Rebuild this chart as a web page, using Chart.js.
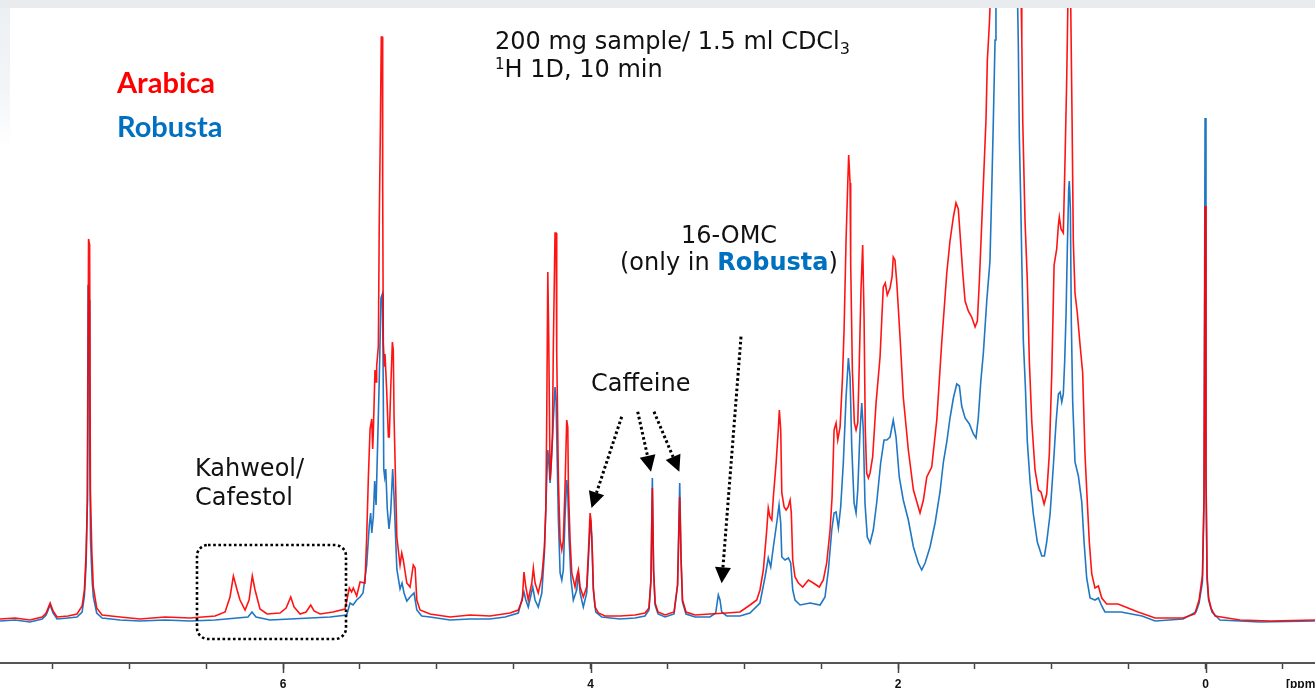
<!DOCTYPE html>
<html>
<head>
<meta charset="utf-8">
<title>1H NMR Arabica vs Robusta</title>
<script src="https://cdn.jsdelivr.net/npm/chart.js@4.4.1/dist/chart.umd.min.js"></script>
<style>
  html, body { margin: 0; padding: 0; background: #fff; overflow: hidden; }
  #wrap { position: relative; width: 1315px; height: 688px; }
  #spectrum { position: absolute; left: 0; top: 0; }
  #topband { position: absolute; left: 0; top: 0; width: 1315px; height: 8px; background: #e8ecef; }
  #leftband { position: absolute; left: 0; top: 8px; width: 10px; height: 140px;
              background: linear-gradient(#edf0f3, #f3f5f7 60%, #fff); }
  #notes { position: absolute; left: 0; top: 0; }
</style>
</head>
<body>
<div id="wrap">
  <canvas id="spectrum" width="1315" height="688"></canvas>
  <div id="topband"></div>
  <div id="leftband"></div>
  <svg id="notes" width="1315" height="688" xmlns="http://www.w3.org/2000/svg">
    <g font-family="'DejaVu Sans', Verdana, sans-serif" font-size="24" fill="#111">
      <text x="495" y="49">200 mg sample/ 1.5 ml CDCl<tspan font-size="16" dy="5">3</tspan></text>
      <text x="495" y="77"><tspan font-size="15" dy="-8">1</tspan><tspan dy="8">H 1D, 10 min</tspan></text>
      <text x="729" y="243" text-anchor="middle">16-OMC</text>
      <text x="620" y="270">(only in <tspan fill="#0070c0" font-weight="bold">Robusta</tspan>)</text>
      <text x="591" y="391">Caffeine</text>
      <text x="195" y="476">Kahweol/</text>
      <text x="195" y="505">Cafestol</text>
    </g>
    <g font-family="Lato, 'Open Sans', sans-serif" font-weight="bold" font-size="29">
      <text x="117" y="93" fill="#ff0000">Arabica</text>
      <text x="117" y="137" fill="#0070c0">Robusta</text>
    </g>
    <text x="1286" y="688" font-family="'Liberation Sans', Arial, sans-serif" font-weight="bold" font-size="12" fill="#111">[ppm]</text>
    <rect x="197" y="545" width="149" height="94" rx="11" fill="none" stroke="#000" stroke-width="2.6" stroke-dasharray="2.6 2.6"/>
    <g id="arrows"></g>
  </svg>
</div>

<script>
// chemical shift (ppm) and intensity (a.u.)
const arabicaPpm = [
  7.841, 7.743, 7.646, 7.567, 7.541, 7.515, 7.496, 7.470, 7.398, 7.340,
  7.307, 7.292, 7.281, 7.272, 7.265, 7.258, 7.253, 7.244, 7.234, 7.212,
  7.177, 7.060, 6.930, 6.767, 6.605, 6.442, 6.377, 6.345, 6.323, 6.297,
  6.280, 6.247, 6.221, 6.200, 6.182, 6.150, 6.104, 6.020, 5.980, 5.950,
  5.928, 5.889, 5.850, 5.820, 5.798, 5.759, 5.675, 5.597, 5.569, 5.554,
  5.543, 5.521, 5.499, 5.467, 5.456, 5.445, 5.434, 5.423, 5.417, 5.413,
  5.402, 5.395, 5.391, 5.380, 5.374, 5.367, 5.361, 5.354, 5.352, 5.348,
  5.341, 5.337, 5.326, 5.315, 5.309, 5.300, 5.289, 5.283, 5.278, 5.260,
  5.239, 5.228, 5.218, 5.195, 5.174, 5.153, 5.141, 5.130, 5.109, 5.044,
  4.914, 4.784, 4.654, 4.524, 4.470, 4.444, 4.433, 4.421, 4.405, 4.382,
  4.372, 4.361, 4.340, 4.317, 4.300, 4.291, 4.285, 4.278, 4.272, 4.263,
  4.257, 4.248, 4.242, 4.231, 4.224, 4.220, 4.209, 4.198, 4.187, 4.177,
  4.166, 4.155, 4.148, 4.144, 4.133, 4.122, 4.101, 4.090, 4.079, 4.068,
  4.047, 4.025, 4.014, 4.003, 3.997, 3.988, 3.982, 3.971, 3.949, 3.906,
  3.808, 3.711, 3.646, 3.620, 3.607, 3.598, 3.590, 3.580, 3.561, 3.515,
  3.457, 3.434, 3.420, 3.411, 3.402, 3.379, 3.320, 3.223, 3.114, 3.028,
  2.963, 2.919, 2.898, 2.876, 2.854, 2.844, 2.833, 2.821, 2.811, 2.793,
  2.779, 2.772, 2.763, 2.756, 2.741, 2.728, 2.715, 2.702, 2.694, 2.685,
  2.670, 2.648, 2.620, 2.583, 2.551, 2.512, 2.486, 2.464, 2.442, 2.429,
  2.416, 2.403, 2.392, 2.377, 2.362, 2.351, 2.338, 2.327, 2.321, 2.312,
  2.308, 2.297, 2.284, 2.273, 2.262, 2.252, 2.241, 2.230, 2.221, 2.213,
  2.204, 2.193, 2.182, 2.165, 2.143, 2.117, 2.096, 2.083, 2.070, 2.052,
  2.039, 2.031, 2.020, 2.008, 1.987, 1.966, 1.933, 1.900, 1.857, 1.835,
  1.813, 1.781, 1.748, 1.716, 1.683, 1.662, 1.640, 1.623, 1.608, 1.597,
  1.579, 1.564, 1.543, 1.521, 1.499, 1.484, 1.471, 1.456, 1.441, 1.428,
  1.419, 1.406, 1.395, 1.337, 1.298, 1.259, 1.220, 1.200, 1.195, 1.189,
  1.174, 1.159, 1.146, 1.130, 1.109, 1.087, 1.070, 1.050, 1.033, 1.016,
  1.000, 0.985, 0.968, 0.957, 0.951, 0.940, 0.925, 0.914, 0.903, 0.894,
  0.886, 0.878, 0.868, 0.860, 0.849, 0.834, 0.816, 0.799, 0.784, 0.769,
  0.756, 0.740, 0.719, 0.697, 0.675, 0.643, 0.569, 0.439, 0.328, 0.146,
  0.070, 0.042, 0.020, 0.010, 0.003, -0.003, -0.010, -0.020, -0.036, -0.062,
  -0.224, -0.420, -0.712
];
const arabicaInt = [
  1, 2, 0, 3, 7, 17, 9, 3, 4, 6,
  14, 30, 67, 120, 381, 375, 130, 70, 33, 12,
  5, 3, 1, 3, 2, 4, 8, 23, 44, 29,
  20, 10, 20, 44, 30, 11, 6, 7, 12, 23,
  13, 6, 8, 15, 9, 6, 8, 11, 32, 28,
  32, 24, 38, 37, 83, 143, 191, 201, 171, 187,
  250, 238, 254, 274, 402, 491, 583, 583, 434, 278,
  254, 266, 230, 183, 183, 230, 278, 270, 203, 83,
  55, 67, 60, 37, 33, 55, 52, 20, 10, 6,
  3, 5, 4, 7, 10, 20, 48, 33, 20, 37,
  52, 37, 27, 43, 73, 110, 200, 348, 283, 140,
  153, 183, 273, 387, 387, 267, 140, 80, 70, 80,
  133, 200, 193, 133, 80, 47, 33, 43, 50, 33,
  23, 33, 67, 107, 100, 67, 33, 13, 7, 4,
  4, 5, 7, 12, 40, 132, 50, 17, 8, 5,
  8, 35, 123, 60, 20, 8, 5, 6, 7, 8,
  15, 20, 30, 50, 90, 112, 103, 100, 123, 157,
  190, 210, 190, 127, 113, 110, 113, 120, 107, 60,
  43, 37, 33, 40, 37, 33, 40, 57, 90, 123,
  190, 197, 180, 193, 240, 290, 380, 437, 465, 437,
  357, 250, 197, 190, 197, 257, 330, 375, 303, 190,
  147, 142, 147, 163, 217, 263, 333, 337, 325, 332,
  343, 363, 360, 337, 283, 223, 170, 130, 107, 120,
  143, 153, 200, 277, 347, 379, 403, 417, 411, 387,
  347, 319, 309, 303, 293, 299, 339, 395, 451, 500,
  560, 596, 640, 740, 800, 740, 640, 625, 580, 500,
  399, 339, 259, 198, 150, 130, 128, 116, 126, 166,
  247, 355, 371, 395, 403, 391, 387, 459, 540, 630,
  660, 630, 500, 379, 327, 307, 275, 247, 166, 118,
  78, 46, 32, 34, 22, 16, 16, 8, 2, 2,
  6, 20, 45, 120, 414, 140, 45, 22, 12, 4,
  0, -1, 0
];

const robustaPpm = [
  7.841, 7.743, 7.646, 7.567, 7.541, 7.515, 7.496, 7.470, 7.398, 7.340,
  7.307, 7.292, 7.281, 7.273, 7.268, 7.262, 7.257, 7.252, 7.242, 7.234,
  7.212, 7.177, 7.060, 6.930, 6.767, 6.605, 6.442, 6.228, 6.202, 6.176,
  6.085, 5.954, 5.824, 5.694, 5.586, 5.564, 5.545, 5.521, 5.499, 5.480,
  5.456, 5.439, 5.430, 5.423, 5.413, 5.404, 5.395, 5.387, 5.374, 5.363,
  5.354, 5.350, 5.345, 5.339, 5.332, 5.322, 5.311, 5.300, 5.287, 5.278,
  5.260, 5.239, 5.226, 5.213, 5.195, 5.174, 5.148, 5.130, 5.098, 5.044,
  4.914, 4.784, 4.654, 4.556, 4.470, 4.433, 4.421, 4.405, 4.376, 4.361,
  4.340, 4.317, 4.300, 4.285, 4.278, 4.272, 4.263, 4.252, 4.242, 4.231,
  4.224, 4.218, 4.209, 4.198, 4.187, 4.177, 4.166, 4.155, 4.148, 4.140,
  4.127, 4.112, 4.090, 4.079, 4.068, 4.047, 4.025, 4.010, 4.001, 3.992,
  3.982, 3.966, 3.927, 3.808, 3.711, 3.646, 3.620, 3.607, 3.598, 3.590,
  3.580, 3.561, 3.515, 3.457, 3.434, 3.420, 3.411, 3.402, 3.379, 3.320,
  3.223, 3.186, 3.169, 3.158, 3.147, 3.114, 3.028, 2.963, 2.898, 2.865,
  2.844, 2.828, 2.811, 2.789, 2.774, 2.763, 2.756, 2.735, 2.713, 2.698,
  2.685, 2.670, 2.637, 2.572, 2.507, 2.475, 2.453, 2.431, 2.416, 2.403,
  2.388, 2.373, 2.356, 2.338, 2.323, 2.312, 2.301, 2.286, 2.273, 2.262,
  2.247, 2.236, 2.226, 2.215, 2.200, 2.182, 2.161, 2.139, 2.113, 2.091,
  2.073, 2.052, 2.031, 2.013, 1.992, 1.966, 1.933, 1.900, 1.868, 1.846,
  1.824, 1.792, 1.759, 1.727, 1.705, 1.683, 1.662, 1.640, 1.618, 1.601,
  1.586, 1.564, 1.536, 1.510, 1.493, 1.478, 1.462, 1.445, 1.423, 1.402,
  1.391, 1.380, 1.369, 1.363, 1.324, 1.291, 1.259, 1.224, 1.218, 1.211,
  1.202, 1.195, 1.185, 1.172, 1.159, 1.141, 1.120, 1.094, 1.065, 1.048,
  1.033, 1.011, 0.990, 0.972, 0.957, 0.946, 0.935, 0.925, 0.916, 0.907,
  0.899, 0.890, 0.886, 0.879, 0.873, 0.864, 0.849, 0.827, 0.805, 0.790,
  0.773, 0.751, 0.719, 0.697, 0.675, 0.654, 0.550, 0.413, 0.328, 0.146,
  0.062, 0.042, 0.020, 0.010, 0.003, -0.003, -0.010, -0.020, -0.042, -0.094,
  -0.354, -0.712
];
const robustaInt = [
  -1, 0, -2, 1, 5, 15, 7, 1, 2, 3,
  8, 24, 55, 120, 335, 320, 160, 80, 40, 23,
  7, 2, 0, -1, 0, -1, 0, 3, 8, 3,
  0, 1, 2, 3, 5, 17, 15, 20, 23, 27,
  55, 95, 107, 87, 103, 139, 115, 163, 242, 322,
  326, 274, 151, 143, 151, 111, 91, 107, 151, 123,
  51, 31, 37, 27, 19, 23, 27, 10, 4, 3,
  0, 1, 1, 3, 7, 28, 20, 13, 33, 20,
  13, 27, 67, 140, 170, 160, 137, 167, 200, 233,
  220, 170, 100, 47, 40, 50, 103, 140, 127, 83,
  40, 20, 30, 47, 27, 13, 27, 73, 100, 83,
  30, 8, 3, 1, 2, 4, 10, 40, 142, 50,
  15, 6, 3, 6, 35, 137, 60, 18, 6, 3,
  3, 7, 25, 20, 8, 4, 4, 7, 17, 43,
  62, 53, 73, 97, 115, 97, 63, 60, 62, 57,
  30, 20, 15, 17, 15, 23, 50, 90, 107, 108,
  92, 113, 157, 223, 262, 243, 173, 117, 107, 130,
  190, 217, 190, 117, 83, 77, 90, 117, 157, 180,
  180, 183, 200, 183, 143, 120, 100, 73, 57, 50,
  57, 73, 97, 128, 158, 178, 202, 222, 236, 234,
  214, 202, 196, 186, 182, 202, 238, 267, 319, 359,
  427, 500, 580, 630, 720, 770, 720, 630, 580, 483,
  419, 359, 279, 234, 178, 138, 106, 78, 64, 64,
  78, 106, 154, 198, 226, 228, 218, 226, 259, 307,
  371, 431, 439, 411, 299, 218, 158, 144, 118, 78,
  42, 22, 20, 22, 14, 8, 8, 4, -1, 1,
  8, 17, 38, 120, 502, 150, 40, 20, 8, 0,
  -2, -1
];

// x axis: a tick every 0.5 ppm, numbers only on the even ones
const tickValues = [-0.5, 0, 0.5, 1, 1.5, 2, 2.5, 3, 3.5, 4, 4.5, 5, 5.5, 6, 6.5, 7, 7.5];
const labelledTicks = [0, 2, 4, 6];

const ppmMin = -0.712;
const ppmMax = 7.841;

function toPoints(ppm, intensity) {
    return ppm.map((p, i) => ({ x: p, y: intensity[i] }));
}

// longer tick marks under the numbered ppm values
const majorTickPlugin = {
    id: 'majorTicks',
    afterDraw(chart) {
        const xs = chart.scales.x;
        const ctx = chart.ctx;
        ctx.save();
        ctx.strokeStyle = '#444';
        ctx.lineWidth = 1.5;
        labelledTicks.forEach(v => {
            const px = Math.round(xs.getPixelForValue(v)) + 0.5;
            ctx.beginPath();
            ctx.moveTo(px, xs.top);
            ctx.lineTo(px, xs.top + 10);
            ctx.stroke();
        });
        ctx.restore();
    }
};

new Chart(document.getElementById('spectrum').getContext('2d'), {
    type: 'line',
    data: {
        datasets: [
            {
                label: 'Arabica',
                data: toPoints(arabicaPpm, arabicaInt),
                borderColor: 'rgba(255, 0, 0, 0.92)',
                borderWidth: 1.6
            },
            {
                label: 'Robusta',
                data: toPoints(robustaPpm, robustaInt),
                borderColor: 'rgba(20, 112, 192, 0.95)',
                borderWidth: 1.6
            }
        ]
    },
    options: {
        responsive: false,
        devicePixelRatio: 1,
        animation: false,
        events: [],
        layout: { padding: { top: 8, left: 0, right: 0, bottom: 0 } },
        elements: {
            point: { radius: 0 },
            line: { tension: 0, fill: false }
        },
        plugins: {
            legend: { display: false },
            tooltip: { enabled: false }
        },
        scales: {
            x: {
                type: 'linear',
                reverse: true,
                min: ppmMin,
                max: ppmMax,
                afterBuildTicks: scale => {
                    scale.ticks = tickValues.map(v => ({ value: v }));
                },
                afterFit: scale => { scale.height = 25; },
                grid: {
                    drawOnChartArea: false,
                    drawTicks: true,
                    tickLength: 6,
                    tickColor: '#444',
                    tickWidth: 1.5
                },
                border: { display: true, color: '#555', width: 2 },
                ticks: {
                    autoSkip: false,
                    maxRotation: 0,
                    padding: 8,
                    color: '#111',
                    font: { family: "'Liberation Sans', Arial, sans-serif", size: 12, weight: 'bold' },
                    callback: v => labelledTicks.includes(v) ? String(v) : ''
                }
            },
            y: {
                display: false,
                min: -43,
                max: 612
            }
        }
    },
    plugins: [majorTickPlugin]
});

// dotted arrows: [startX, startY, tipX, tipY]
const arrows = [
    [621.7, 416.7, 591.5, 508],
    [637.7, 411.7, 651, 471.7],
    [654, 411.7, 679.3, 471.7],
    [741, 336.7, 721.7, 583.3]
];
const ns = 'http://www.w3.org/2000/svg';
const arrowGroup = document.getElementById('arrows');
arrows.forEach(([sx, sy, tx, ty]) => {
    const dx = tx - sx, dy = ty - sy;
    const len = Math.hypot(dx, dy);
    const ux = dx / len, uy = dy / len;
    const headLen = 16, half = 8;
    const bx = tx - ux * headLen, by = ty - uy * headLen;

    const line = document.createElementNS(ns, 'line');
    line.setAttribute('x1', sx);
    line.setAttribute('y1', sy);
    line.setAttribute('x2', bx);
    line.setAttribute('y2', by);
    line.setAttribute('stroke', '#000');
    line.setAttribute('stroke-width', '3');
    line.setAttribute('stroke-dasharray', '2.6 2.6');
    arrowGroup.appendChild(line);

    const head = document.createElementNS(ns, 'polygon');
    const pts = [
        [tx, ty],
        [bx - uy * half, by + ux * half],
        [bx + uy * half, by - ux * half]
    ];
    head.setAttribute('points', pts.map(p => p.join(',')).join(' '));
    head.setAttribute('fill', '#000');
    arrowGroup.appendChild(head);
});
</script>
</body>
</html>
